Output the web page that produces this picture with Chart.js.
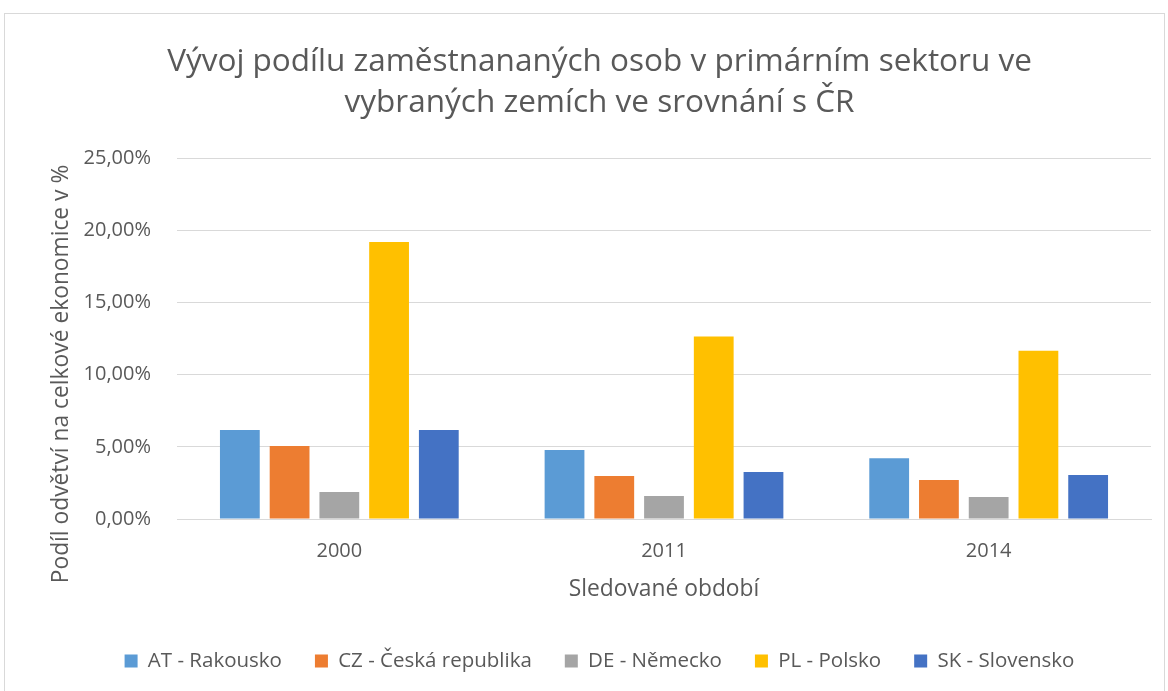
<!DOCTYPE html>
<html lang="cs">
<head>
    <meta charset="UTF-8">
    <title>Vývoj podílu zaměstnaných osob v primárním sektoru</title>
    <script src="https://cdn.jsdelivr.net/npm/chart.js"></script>
    <style>
        html, body { margin: 0; padding: 0; background: #fff; }
        #wrap { width: 1168px; height: 691px; position: relative; }
    </style>
</head>
<body>
<div id="wrap">
    <canvas id="chart" width="1168" height="691"></canvas>
</div>

<script>
    // data (percent)
    const years = ['2000', '2011', '2014'];
    const countries = ['AT - Rakousko', 'CZ - Česká republika', 'DE - Německo', 'PL - Polsko', 'SK - Slovensko'];
    const atValues = [6.17, 4.78, 4.20];
    const czValues = [5.06, 2.98, 2.70];
    const deValues = [1.87, 1.60, 1.53];
    const plValues = [19.19, 12.64, 11.65];
    const skValues = [6.17, 3.26, 3.05];
    const colors = ['#5B9BD5', '#ED7D31', '#A5A5A5', '#FFC000', '#4472C4'];

    const textColor = '#595959';
    const fontFamily = '"Open Sans", sans-serif';

    // light frame around the whole chart
    const framePlugin = {
        id: 'frame',
        beforeDraw(chart) {
            const ctx = chart.ctx;
            ctx.save();
            ctx.strokeStyle = '#D9D9D9';
            ctx.lineWidth = 1;
            ctx.strokeRect(4.5, 13.5, 1160, 700);
            ctx.restore();
        }
    };

    const seriesValues = [atValues, czValues, deValues, plValues, skValues];

    new Chart(document.getElementById('chart'), {
        type: 'bar',
        data: {
            labels: years,
            datasets: countries.map((name, i) => ({
                label: name,
                data: seriesValues[i],
                backgroundColor: colors[i],
                borderWidth: 0,
                categoryPercentage: 0.766,
                barPercentage: 0.8
            }))
        },
        options: {
            responsive: false,
            animation: false,
            layout: { padding: { left: 48, right: 17, top: 0, bottom: 9.75 } },
            plugins: {
                title: {
                    display: true,
                    text: ['Vývoj podílu zaměstnananých osob v primárním sektoru ve', 'vybraných zemích ve srovnání s ČR'],
                    color: textColor,
                    font: { family: fontFamily, size: 31.5, weight: 'normal', lineHeight: 41 / 31.5 },
                    padding: { top: 42, bottom: 34 }
                },
                legend: {
                    position: 'bottom',
                    labels: {
                        color: textColor,
                        font: { family: fontFamily, size: 20.5 },
                        boxWidth: 13,
                        boxHeight: 13,
                        padding: 33
                    }
                },
                tooltip: { enabled: false }
            },
            scales: {
                x: {
                    grid: { display: false, drawTicks: false },
                    border: { display: true, color: '#D9D9D9', width: 1 },
                    ticks: { color: textColor, font: { family: fontFamily, size: 20 }, padding: 20 },
                    title: {
                        display: true,
                        text: 'Sledované období',
                        color: textColor,
                        font: { family: fontFamily, size: 22.8 },
                        padding: { top: 0, bottom: 15 }
                    },
                    afterFit(scale) { scale.height = 98.75; }
                },
                y: {
                    min: 0,
                    max: 25,
                    ticks: {
                        stepSize: 5,
                        color: textColor,
                        font: { family: fontFamily, size: 20 },
                        padding: 26,
                        callback: v => v.toFixed(2).replace('.', ',') + '%'
                    },
                    grid: { color: '#D9D9D9', lineWidth: 1, drawTicks: false },
                    border: { display: false },
                    title: {
                        display: true,
                        // trailing spaces push the title a little below the plot centre, as in the original
                        text: 'Podíl odvětví na celkové ekonomice v %' + '\u00a0'.repeat(12),
                        color: textColor,
                        font: { family: fontFamily, size: 22.8 },
                        padding: { top: 0, bottom: 0 }
                    },
                    afterFit(scale) { scale.width = 129; }
                }
            }
        },
        plugins: [framePlugin]
    });
</script>
</body>
</html>
